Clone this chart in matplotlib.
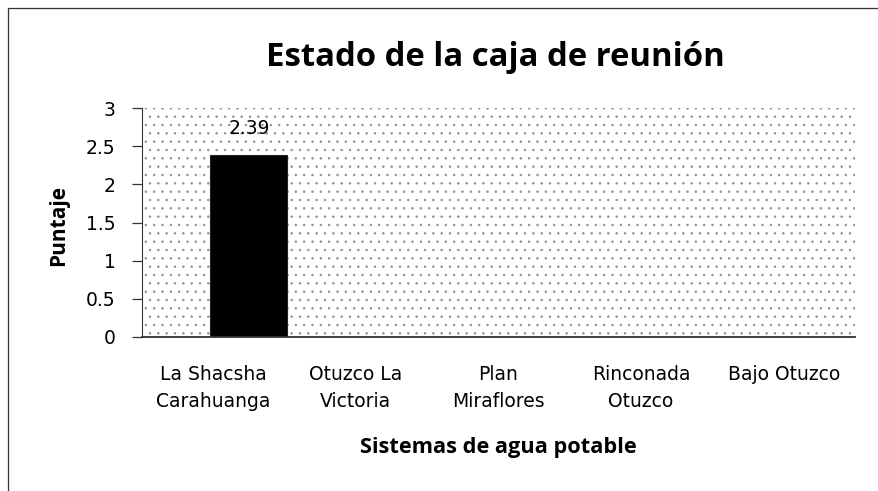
import numpy as np
import matplotlib
matplotlib.use("Agg")
import matplotlib.pyplot as plt
from matplotlib.patches import Rectangle

plt.rcParams['font.family'] = ['DejaVu Sans']
plt.rcParams['hatch.linewidth'] = 0.55
plt.rcParams['hatch.color'] = '#909090'
bold_font = ['Open Sans', 'DejaVu Sans']

categories = ['La Shacsha\nCarahuanga', 'Otuzco La\nVictoria', 'Plan\nMiraflores',
              'Rinconada\nOtuzco', 'Bajo Otuzco']
serie1 = [0, 0, 0, 0, 0]
serie2 = [2.39, 0, 0, 0, 0]
yticks = [0, 0.5, 1, 1.5, 2, 2.5, 3]
ytick_labels = ['0', '0.5', '1', '1.5', '2', '2.5', '3']

W, H = 879, 491
fig = plt.figure(figsize=(W/100, H/100), dpi=100)
fig.patch.set_facecolor('white')

# chart border
fig.patches.append(Rectangle((8/W, -0.1), 1.2, (491-8)/H + 0.1, transform=fig.transFigure,
                             fill=False, edgecolor='#333333', linewidth=0.9))

ax = fig.add_axes([142/W, (H-337)/H, (855-142)/W, (337-108)/H])
ax.patch.set_facecolor('white')
ax.patch.set_hatch('..')
ax.patch.set_edgecolor('#909090')
ax.patch.set_linewidth(0)

x = np.arange(len(categories))
bw = 0.54
ax.bar(x - 0.29, serie1, width=bw, color='black')
ax.bar(x + 0.25, serie2, width=bw, color='black', edgecolor='#222222', linewidth=0.8)
ax.annotate('%.2f' % serie2[0], (x[0] + 0.25, serie2[0]), xytext=(0, 19),
            textcoords='offset points', ha='center', va='center', fontsize=13.5)

ax.set_xlim(-0.5, len(categories) - 0.5)
ax.set_ylim(0, 3)
ax.set_yticks(yticks)
ax.set_yticklabels(ytick_labels, fontsize=13.5)
ax.set_xticks(x)
ax.set_xticklabels(categories, fontsize=13.5, linespacing=1.55)
ax.tick_params(axis='x', length=0, pad=20)
ax.tick_params(axis='y', length=7, width=0.9, direction='out', pad=12, color='#333333')

for s in ['top', 'right']:
    ax.spines[s].set_visible(False)
ax.spines['left'].set_color('#333333')
ax.spines['bottom'].set_color('#333333')
ax.spines['bottom'].set_linewidth(1.3)

fig.text(59/W, 1 - 226/H, 'Puntaje', rotation=90, ha='center', va='center',
         fontsize=15, fontweight='bold', family=bold_font)
fig.text(498/W, 1 - 447/H, 'Sistemas de agua potable', ha='center', va='center',
         fontsize=15.7, fontweight='bold', family=bold_font)
fig.text(495/W, 1 - 57/H, 'Estado de la caja de reunión', ha='center', va='center',
         fontsize=23.7, fontweight='bold', family=bold_font)

fig.savefig('out.png', dpi=100)
